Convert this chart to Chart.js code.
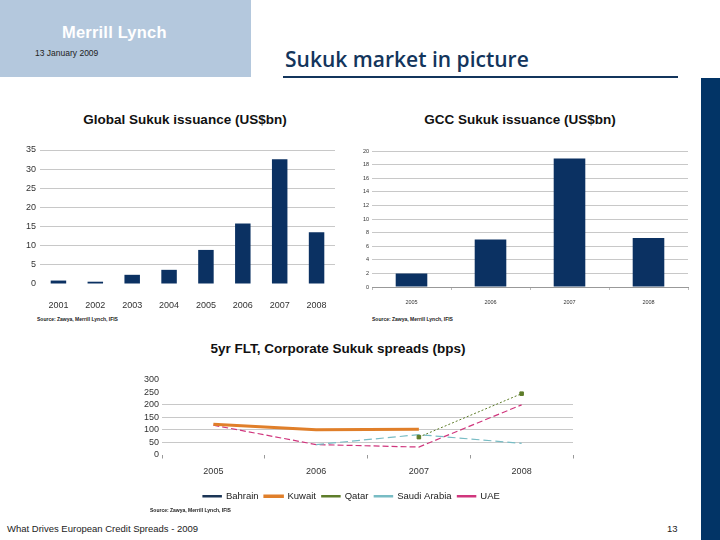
<!DOCTYPE html>
<html lang="en">
<head>
<meta charset="UTF-8">
<title>Sukuk market in picture</title>
<script src="https://cdn.jsdelivr.net/npm/chart.js@4.4.1/dist/chart.umd.min.js"></script>
<style>
  body { margin: 0; background: #fff; font-family: 'Liberation Sans', Arial, sans-serif; }
  .slide { position: relative; width: 720px; height: 540px; overflow: hidden; background: #fff; }
  .abs { position: absolute; }
  .header { left: 0; top: 0; width: 251px; height: 77px; background: #b4c8dd; }
  .brand { left: 62px; top: 23px; color: #fff; font-weight: 900; font-size: 16.5px; letter-spacing: 0.2px; }
  .date { left: 35px; top: 48px; color: #222; font-size: 8.5px; }
  .title { left: 285px; top: 45px; color: #13355c; font-family: 'Open Sans', sans-serif; font-weight: 600; font-size: 21px; }
  .rule { left: 283px; top: 76px; width: 395px; height: 2px; background: #13355c; }
  .sidebar { left: 701px; top: 78px; width: 19px; height: 462px; background: #023466; }
  .ctitle { font-weight: bold; font-size: 13.5px; color: #111; text-align: center; }
  .source { font-size: 5px; font-weight: bold; color: #222; }
  .footer { left: 7px; top: 523px; font-size: 9.5px; color: #222; }
  .page { left: 667px; top: 523px; font-size: 9.5px; color: #222; }
  canvas { position: absolute; }
</style>
</head>
<body>
<div class="slide">
  <div class="abs header"></div>
  <div class="abs brand">Merrill Lynch</div>
  <div class="abs date">13 January 2009</div>
  <div class="abs title">Sukuk market in picture</div>
  <div class="abs rule"></div>
  <div class="abs sidebar"></div>

  <div class="abs ctitle" style="left:35px; top:112px; width:300px;">Global Sukuk issuance (US$bn)</div>
  <canvas id="chartGlobal" width="325" height="170" style="left:15px; top:140px;"></canvas>
  <div class="abs source" style="left:37px; top:316px;">Source: Zawya, Merrill Lynch, IFIS</div>

  <div class="abs ctitle" style="left:370px; top:112px; width:300px;">GCC Sukuk issuance (US$bn)</div>
  <canvas id="chartGcc" width="340" height="170" style="left:355px; top:140px;"></canvas>
  <div class="abs source" style="left:372px; top:316px;">Source: Zawya, Merrill Lynch, IFIS</div>

  <div class="abs ctitle" style="left:168px; top:341px; width:340px;">5yr FLT, Corporate Sukuk spreads (bps)</div>
  <canvas id="chartSpreads" width="460" height="146" style="left:130px; top:365px;"></canvas>
  <div class="abs source" style="left:150px; top:507px;">Source: Zawya, Merrill Lynch, IFIS</div>

  <div class="abs footer">What Drives European Credit Spreads - 2009</div>
  <div class="abs page">13</div>
</div>

<script>
// Global Sukuk issuance (US$bn)
const globalYears = ['2001', '2002', '2003', '2004', '2005', '2006', '2007', '2008'];
const globalIssuance = [0.9, 0.6, 2.4, 3.7, 8.9, 15.8, 32.6, 13.5];

// GCC Sukuk issuance (US$bn)
const gccYears = ['2005', '2006', '2007', '2008'];
const gccIssuance = [2.0, 7.0, 18.9, 7.2];

// 5yr FLT corporate sukuk spreads (bps)
const spreadYears = ['2005', '2006', '2007', '2008'];
const bahrain = [null, null, null, null];
const kuwait = [122, 100, 102, null];
const qatar = [null, null, 70, 245];
const saudiArabia = [null, 40, 80, 45];
const uae = [118, 40, 30, 200];

const navy = '#0b3162';
const gridGrey = '#c8c8c8';
const tickText = '#333';

Chart.defaults.font.family = "'Liberation Sans', Arial, sans-serif";
Chart.defaults.color = tickText;

// Global chart
new Chart(document.getElementById('chartGlobal'), {
  type: 'bar',
  data: {
    labels: globalYears,
    datasets: [{ data: globalIssuance, backgroundColor: navy, categoryPercentage: 0.42, barPercentage: 1 }]
  },
  options: {
    responsive: false,
    animation: false,
    layout: { padding: { top: 10, right: 5 } },
    plugins: { legend: { display: false }, tooltip: { enabled: false } },
    scales: {
      x: {
        grid: { display: false },
        border: { display: false },
        ticks: { font: { size: 9 }, padding: 8 },
        afterFit: s => { s.height = 26; }
      },
      y: {
        min: 0, max: 35,
        ticks: { stepSize: 5, font: { size: 9 }, padding: 4 },
        grid: { color: c => c.tick.value === 0 ? 'rgba(0,0,0,0)' : gridGrey, drawTicks: false },
        border: { display: false },
        afterFit: s => { s.width = 25; }
      }
    }
  }
});

// GCC chart
new Chart(document.getElementById('chartGcc'), {
  type: 'bar',
  data: {
    labels: gccYears,
    datasets: [{ data: gccIssuance, backgroundColor: navy, categoryPercentage: 0.4, barPercentage: 1 }]
  },
  options: {
    responsive: false,
    animation: false,
    layout: { padding: { top: 11, right: 7 } },
    plugins: { legend: { display: false }, tooltip: { enabled: false } },
    scales: {
      x: {
        grid: { drawOnChartArea: false, tickLength: 3, color: '#bbb' },
        border: { color: '#999' },
        ticks: { font: { size: 5.5 }, padding: 9 },
        afterFit: s => { s.height = 23; }
      },
      y: {
        min: 0, max: 20,
        ticks: { stepSize: 2, font: { size: 5.5 }, padding: 3, autoSkip: false },
        grid: { color: gridGrey, drawTicks: false },
        border: { display: false },
        afterFit: s => { s.width = 17; }
      }
    }
  }
});

// Spreads chart
const noLines = new Set([250, 300, 0]);
new Chart(document.getElementById('chartSpreads'), {
  type: 'line',
  data: {
    labels: spreadYears,
    datasets: [
      { label: 'Bahrain', data: bahrain, borderColor: '#1b3556', backgroundColor: '#1b3556', borderWidth: 2, pointRadius: 0 },
      { label: 'Kuwait', data: kuwait, borderColor: '#e07f2a', backgroundColor: '#e07f2a', borderWidth: 3, pointRadius: 0 },
      { label: 'Qatar', data: qatar, borderColor: '#5e7d2a', backgroundColor: '#5e7d2a', borderWidth: 1, borderDash: [2, 2],
        pointStyle: 'rect', pointRadius: 2.5 },
      { label: 'Saudi Arabia', data: saudiArabia, borderColor: '#78bcc4', backgroundColor: '#78bcc4', borderWidth: 1.2, borderDash: [8, 4], pointRadius: 0 },
      { label: 'UAE', data: uae, borderColor: '#d0367d', backgroundColor: '#d0367d', borderWidth: 1.2, borderDash: [6, 3], pointRadius: 0 }
    ]
  },
  options: {
    responsive: false,
    animation: false,
    layout: { padding: { top: 15, right: 17 } },
    plugins: {
      tooltip: { enabled: false },
      legend: {
        position: 'bottom',
        labels: {
          boxWidth: 18, boxHeight: 1, padding: 6, font: { size: 9.5 }, color: '#222',
          generateLabels: chart => Chart.defaults.plugins.legend.labels.generateLabels(chart).map(l => {
            l.lineDash = [];
            l.fillStyle = l.strokeStyle;
            l.lineWidth = l.text === 'Kuwait' ? 2.5 : 1.5;
            return l;
          })
        }
      }
    },
    scales: {
      x: {
        offset: true,
        grid: { offset: true, drawOnChartArea: false, tickLength: 4, color: '#999' },
        border: { display: false },
        ticks: { font: { size: 9 }, padding: 8 },
        afterFit: s => { s.height = 31; }
      },
      y: {
        min: 0, max: 300,
        ticks: { stepSize: 50, font: { size: 9 }, padding: 3, autoSkip: false },
        grid: { color: c => noLines.has(c.tick.value) ? 'rgba(0,0,0,0)' : gridGrey, drawTicks: false },
        border: { display: false },
        afterFit: s => { s.width = 32; }
      }
    }
  }
});
</script>
</body>
</html>
